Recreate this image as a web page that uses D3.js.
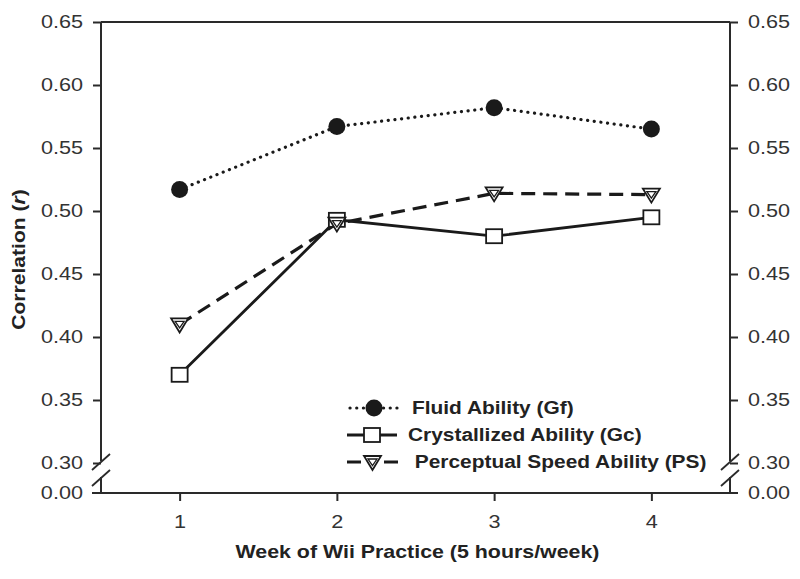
<!DOCTYPE html>
<html><head><meta charset="utf-8">
<script src="https://cdn.jsdelivr.net/npm/d3@7"></script>
<style>body{margin:0;background:#fff}svg{display:block}</style>
</head><body>
<svg id="c" width="800" height="579"></svg>
<script>
const weeks = [1, 2, 3, 4];
const fluid = [0.517, 0.567, 0.582, 0.565];
const crystallized = [0.370, 0.493, 0.480, 0.495];
const perceptual = [0.410, 0.490, 0.514, 0.513];
const yTicks = [0.30, 0.35, 0.40, 0.45, 0.50, 0.55, 0.60, 0.65];
const yBreakTick = 0.00;
const seriesNames = ["Fluid Ability (Gf)", "Crystallized Ability (Gc)", " Perceptual Speed Ability (PS)"];
const xTitle = "Week of Wii Practice (5 hours/week)";

const svg = d3.select("#c");
const L = 101, R = 730, T = 22, B = 463, B0 = 493;
const x = d3.scaleLinear().domain([0.5, 4.5]).range([L, R]);
const y = d3.scaleLinear().domain([0.30, 0.65]).range([B, T]);
const axisColor = "#2a2a2a";
const inkColor = "#1a1a1a";
const fontFam = "'Liberation Sans', Arial, Helvetica, sans-serif";
const TICK_FS = "18.5px", SW = 1.17;
const AW = 2;

function stretch(sel, k) {
  sel.each(function () {
    const w = this.getComputedTextLength();
    d3.select(this).attr("textLength", w * k).attr("lengthAdjust", "spacingAndGlyphs");
  });
}

svg.append("line").attr("x1", L).attr("x2", R).attr("y1", T).attr("y2", T)
  .attr("stroke", axisColor).attr("stroke-width", AW);

function yAxis(side) {
  const ax = (side === "left" ? d3.axisLeft(y) : d3.axisRight(y))
    .tickValues(yTicks).tickFormat(d3.format(".2f")).tickSize(8).tickPadding(10);
  const g = svg.append("g").attr("transform", `translate(${side === "left" ? L : R},0)`).call(ax);
  g.select(".domain").remove();
  g.selectAll(".tick line").attr("stroke", axisColor).attr("stroke-width", AW);
  const tt = g.selectAll(".tick text").attr("fill", "#333").style("font-family", fontFam).style("font-size", TICK_FS);
  stretch(tt, SW);
  const xx = side === "left" ? L : R;
  svg.append("line").attr("x1", xx).attr("x2", xx).attr("y1", T).attr("y2", B - 2)
    .attr("stroke", axisColor).attr("stroke-width", AW);
  svg.append("line").attr("x1", xx).attr("x2", xx).attr("y1", B + 14).attr("y2", B0)
    .attr("stroke", axisColor).attr("stroke-width", AW);
  [B - 1, B + 15].forEach(cy => {
    svg.append("line").attr("x1", xx - 9).attr("y1", cy + 8).attr("x2", xx + 9).attr("y2", cy - 8)
      .attr("stroke", axisColor).attr("stroke-width", 1.8);
  });
  const dir = side === "left" ? -1 : 1;
  svg.append("line").attr("x1", xx).attr("x2", xx + dir * 8).attr("y1", B0).attr("y2", B0)
    .attr("stroke", axisColor).attr("stroke-width", AW);
  const t0 = svg.append("text").attr("x", xx + dir * 18).attr("y", B0).attr("dy", "0.32em")
    .attr("text-anchor", side === "left" ? "end" : "start")
    .attr("fill", "#333").style("font-family", fontFam).style("font-size", TICK_FS)
    .text(d3.format(".2f")(yBreakTick));
  stretch(t0, SW);
}
yAxis("left");
yAxis("right");

const xg = svg.append("g").attr("transform", `translate(0,${B0})`)
  .call(d3.axisBottom(x).tickValues(weeks).tickFormat(d3.format("d")).tickSize(8).tickPadding(14));
xg.select(".domain").remove();
xg.selectAll(".tick line").attr("stroke", axisColor).attr("stroke-width", AW);
stretch(xg.selectAll(".tick text").attr("fill", "#333").style("font-family", fontFam).style("font-size", TICK_FS), SW);
svg.append("line").attr("x1", L - 9).attr("x2", R + 8).attr("y1", B0).attr("y2", B0)
  .attr("stroke", axisColor).attr("stroke-width", AW);

const yt = svg.append("text").attr("transform", `translate(25,${(T + B0) / 2 + 2}) rotate(-90)`)
  .attr("text-anchor", "middle").attr("fill", "#222")
  .style("font-family", fontFam).style("font-size", "18px").style("font-weight", "bold")
  .html('Correlation (<tspan font-style="italic">r</tspan>)');
stretch(yt, 1.17);
const xt = svg.append("text").attr("x", (L + R) / 2 + 2).attr("y", 558).attr("text-anchor", "middle").attr("fill", "#222")
  .style("font-family", fontFam).style("font-size", "18.5px").style("font-weight", "bold")
  .text(xTitle);
stretch(xt, 1.155);

const styles = [
  { data: fluid, dash: "0.1 6.6", cap: "round", width: 3.2, marker: "circle" },
  { data: crystallized, dash: null, cap: "butt", width: 2.8, marker: "square" },
  { data: perceptual, dash: "14 8", cap: "butt", width: 3.2, marker: "triangle" }
];
const line = d3.line().x((d, i) => x(weeks[i])).y(d => y(d));

function drawMarker(g, type, cx, cy) {
  if (type === "circle") {
    g.append("circle").attr("cx", cx).attr("cy", cy).attr("r", 8.5).attr("fill", inkColor);
  } else if (type === "square") {
    g.append("rect").attr("x", cx - 8).attr("y", cy - 7).attr("width", 16).attr("height", 14)
      .attr("fill", "#fff").attr("stroke", inkColor).attr("stroke-width", 1.8);
  } else {
    g.append("path").attr("d", `M${cx - 8.5},${cy - 6}L${cx + 8.5},${cy - 6}L${cx},${cy + 8}Z`)
      .attr("fill", "#fff").attr("stroke", inkColor).attr("stroke-width", 1.8);
    g.append("path").attr("d", `M${cx - 4.5},${cy - 3}L${cx + 4.5},${cy - 3}L${cx},${cy + 3.5}Z`)
      .attr("fill", "none").attr("stroke", inkColor).attr("stroke-width", 1.3);
  }
}

styles.forEach(s => {
  svg.append("path").attr("d", line(s.data)).attr("fill", "none").attr("stroke", inkColor)
    .attr("stroke-width", s.width).attr("stroke-linecap", s.cap)
    .attr("stroke-dasharray", s.dash);
});
styles.forEach(s => {
  const g = svg.append("g");
  s.data.forEach((d, i) => drawMarker(g, s.marker, x(weeks[i]), y(d)));
});

const legY = [408, 435, 462];
const legX0 = [350, 347, 347], legX1 = [398, 397, 398], legTX = [412, 408, 409];
const legDash = ["0.1 6.6", null, "14 23 14"];
styles.forEach((s, i) => {
  svg.append("line").attr("x1", legX0[i]).attr("x2", legX1[i]).attr("y1", legY[i]).attr("y2", legY[i])
    .attr("stroke", inkColor).attr("stroke-width", s.width).attr("stroke-linecap", s.cap)
    .attr("stroke-dasharray", legDash[i]);
  drawMarker(svg.append("g"), s.marker, (legX0[i] + legX1[i]) / 2, legY[i]);
  const t = svg.append("text").attr("x", legTX[i]).attr("y", legY[i]).attr("dy", "0.35em")
    .attr("fill", "#222").attr("xml:space", "preserve").style("white-space", "pre")
    .style("font-family", fontFam).style("font-size", "18px").style("font-weight", "bold")
    .text(seriesNames[i]);
  stretch(t, 1.16);
});
</script>
</body></html>
